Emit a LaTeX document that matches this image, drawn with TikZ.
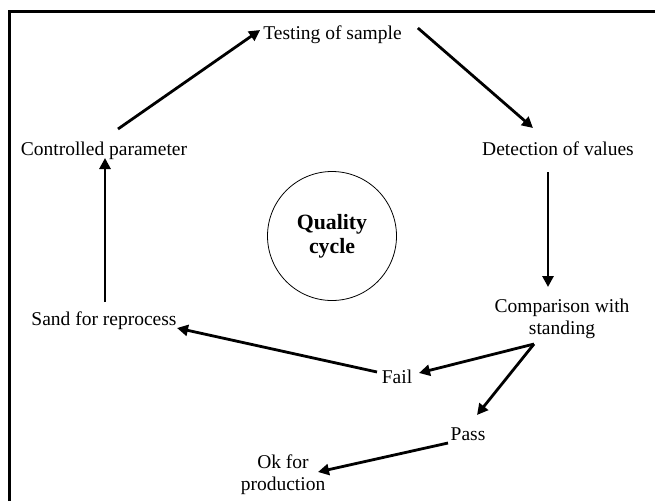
\documentclass[tikz,border=0pt]{standalone}
\usepackage{fontspec}
\setmainfont{Liberation Serif}
\usetikzlibrary{arrows.meta}
\tikzset{
  lbl/.style={inner sep=0pt, anchor=base, align=center, font=\fontsize{19.5}{22}\selectfont},
  arr/.style={line width=2.8pt, -{Triangle[length=11pt,width=11pt]}},
  frame/.style={line width=3pt}
}
\begin{document}
\begin{tikzpicture}[x=1pt,y=-1pt]
\useasboundingbox (0,0) rectangle (655,501);
\draw[frame] (9,501) -- (9,11.5) -- (655,11.5);
\node[lbl] (test) at (332.5,39) {Testing of sample};
\node[lbl] (detect) at (558,155) {Detection of values};
\node[lbl] (ctrl) at (104,155) {Controlled parameter};
\node[lbl] (comp) at (562,334) {Comparison with\\standing};
\node[lbl] (fail) at (397,383) {Fail};
\node[lbl] (pass) at (468,440) {Pass};
\node[lbl] (ok) at (283,490) {Ok for\\production};
\node[lbl] (sand) at (104,325) {Sand for reprocess};
\node[draw, circle, line width=0.8pt, minimum size=129pt, inner sep=0pt, align=center,
      font=\fontsize{21.8}{24}\selectfont\bfseries] (qc) at (332,236) {Quality\\cycle};
\draw[arr] ([shift={(14,-26)}]ctrl.base) -- ([shift={(-3,-9)}]test.base west);
\draw[arr] ([shift={(16,-11)}]test.base east) -- ([shift={(-25,-27)}]detect.base);
\draw[arr] ([shift={(-10,17)}]detect.base) -- ([shift={(-14,-47)}]comp.base);
\draw[arr] ([shift={(-28,10)}]comp.base) -- ([shift={(22,-10)}]fail.base);
\draw[arr] ([shift={(-28,10)}]comp.base) -- ([shift={(9,-25)}]pass.base);
\draw[arr] ([shift={(-20,-11)}]fail.base) -- ([shift={(73,3)}]sand.base);
\draw[arr] ([shift={(-20,3)}]pass.base) -- ([shift={(35,-18)}]ok.base);
\draw[arr] ([shift={(1,-23)}]sand.base) -- ([shift={(1,3)}]ctrl.base);
\end{tikzpicture}
\end{document}
